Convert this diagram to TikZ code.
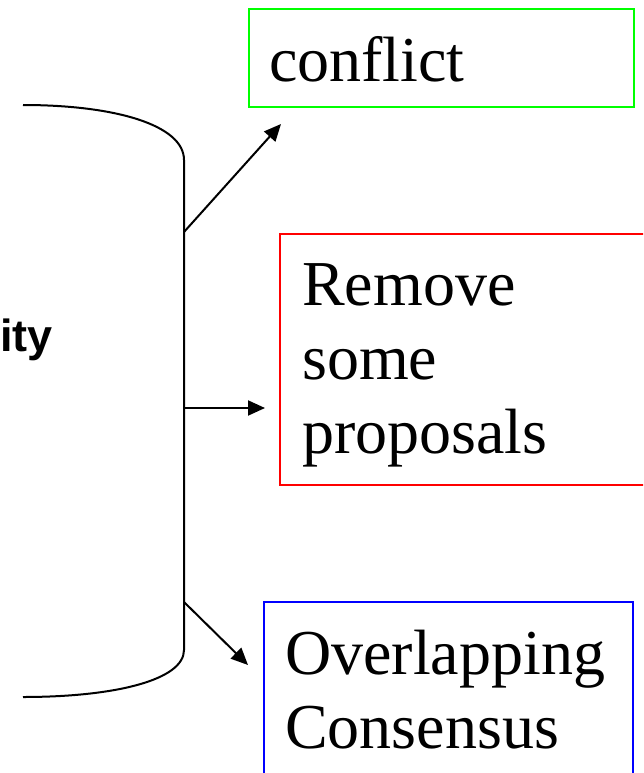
\documentclass[tikz,border=0pt]{standalone}
\usepackage{fontspec}
\setmainfont{Liberation Serif}
\newfontfamily\arialf{Liberation Sans}
\usetikzlibrary{arrows.meta}
\definecolor{boxgreen}{RGB}{0,255,0}
\definecolor{boxred}{RGB}{255,0,0}
\definecolor{boxblue}{RGB}{0,0,255}
\tikzset{
  frame/.style={draw, line width=2pt, inner sep=0pt, anchor=north west},
  label text/.style={anchor=base west, inner sep=0pt, align=left, font=\fontsize{64}{74}\selectfont},
  link/.style={line width=2pt, -{Triangle[length=17pt,width=15pt]}},
  bracket/.style={line width=2pt}
}
\begin{document}
\begin{tikzpicture}[x=1pt,y=-1pt]
\clip (0,0) rectangle (643,773);
% brace
\coordinate (btop) at (23,105);
\coordinate (bbot) at (23,697);
\draw[bracket] (btop) .. controls (115,105) and (184,125) .. (184,160)
  -- (184,650) .. controls (184,680) and (115,697) .. (bbot);
\node[anchor=base east, inner sep=0pt, font=\arialf\bfseries\fontsize{45}{50}\selectfont] (ity) at (53,351) {ity};
% boxes
\node[frame, draw=boxgreen, minimum width=385pt, minimum height=98pt] (conf) at (248,8) {};
\node[label text] (tconf) at (269,82) {conflict};
\node[frame, draw=boxred, minimum width=380pt, minimum height=251pt] (rem) at (279,233) {};
\node[label text] (trem) at (302,453) {Remove\\some\\proposals};
\node[frame, draw=boxblue, minimum width=369pt, minimum height=200pt] (ovl) at (263,601) {};
\node[label text] (tovl) at (285,748) {Overlapping\\Consensus};
% arrows
\coordinate (s1) at (184,232);
\coordinate (e1) at (281,124);
\coordinate (s2) at (184,408);
\coordinate (e2) at (265,408);
\coordinate (s3) at (184,602);
\coordinate (e3) at (248,665);
\draw[link] (s1) -- (e1);
\draw[link] (s2) -- (e2);
\draw[link] (s3) -- (e3);
\end{tikzpicture}
\end{document}
